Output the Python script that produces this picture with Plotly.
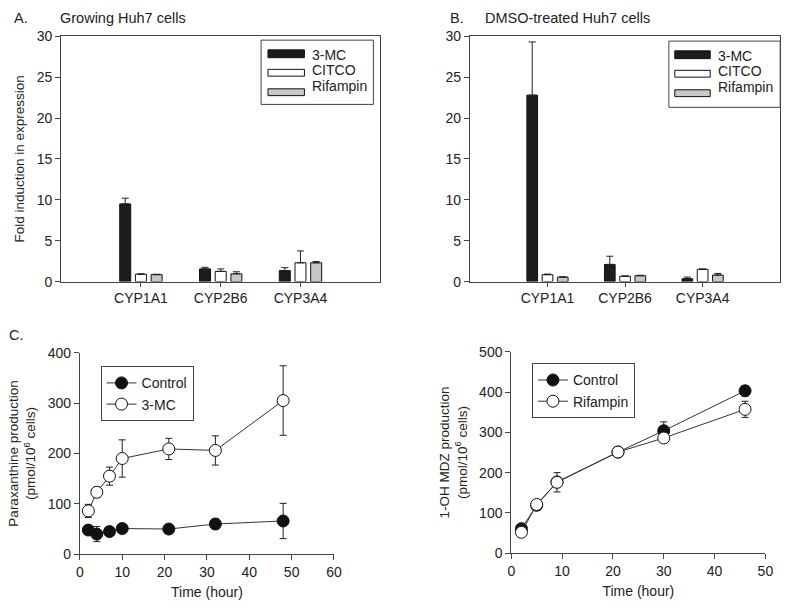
import plotly.graph_objects as go

genes = ["CYP1A1", "CYP2B6", "CYP3A4"]
a_3mc = [9.5, 1.55, 1.35]
a_3mc_err = [0.7, 0.2, 0.35]
a_citco = [0.9, 1.25, 2.3]
a_citco_err = [0.05, 0.3, 1.45]
a_rif = [0.85, 0.95, 2.3]
a_rif_err = [0.05, 0.25, 0.15]

b_3mc = [22.8, 2.1, 0.35]
b_3mc_err = [6.5, 1.0, 0.2]
b_citco = [0.85, 0.65, 1.5]
b_citco_err = [0.07, 0.05, 0.05]
b_rif = [0.55, 0.72, 0.8]
b_rif_err = [0.03, 0.05, 0.2]

time_c = [2, 4, 7, 10, 21, 32, 48]
ctrl_c = [48, 40, 45, 51, 50, 60, 66]
ctrl_c_err = [6, 15, 5, 5, 4, 10, 35]
mc_c = [86, 123, 155, 190, 209, 206, 305]
mc_c_err = [13, 10, 18, 37, 21, 29, 69]

time_d = [2, 5, 9, 21, 30, 46]
ctrl_d = [61, 119, 177, 251, 304, 403]
ctrl_d_err = [5, 5, 10, 12, 22, 13]
rif_d = [52, 121, 176, 251, 286, 357]
rif_d_err = [5, 5, 24, 8, 8, 20]

W, H = 800, 608
FONT = "Liberation Sans, Arial, sans-serif"
TXT = "#222222"
AX = "#444444"

def px(x):
    return x / W

def py(y):
    return 1 - y / H

bar_styles = [
    ("3-MC", "#1c1c1c"),
    ("CITCO", "#ffffff"),
    ("Rifampin", "#c8c8c8"),
]

fig = go.Figure()

def add_bars(vals, errs, xa, ya):
    for (name, color), v, e in zip(bar_styles, vals, errs):
        fig.add_trace(go.Bar(
            x=genes, y=v, name=name, xaxis=xa, yaxis=ya, showlegend=False,
            marker=dict(color=color, line=dict(color="#111111", width=1)),
            error_y=dict(type="data", array=e, arrayminus=[0] * len(e),
                         color="#222222", thickness=1, width=3.5),
        ))

add_bars([a_3mc, a_citco, a_rif], [a_3mc_err, a_citco_err, a_rif_err], "x", "y")
add_bars([b_3mc, b_citco, b_rif], [b_3mc_err, b_citco_err, b_rif_err], "x2", "y2")

def add_lines(t, y1, e1, n1, y2, e2, n2, xa, ya, leg):
    for yy, ee, nn, fill in [(y1, e1, n1, "#111111"), (y2, e2, n2, "#ffffff")]:
        fig.add_trace(go.Scatter(
            x=t, y=yy, name=nn, mode="lines+markers", xaxis=xa, yaxis=ya,
            legend=leg,
            line=dict(color="#333333", width=1),
            marker=dict(size=12, color=fill, line=dict(color="#111111", width=1)),
            error_y=dict(type="data", array=ee, color="#222222", thickness=1, width=3.5),
        ))

add_lines(time_c, ctrl_c, ctrl_c_err, "Control", mc_c, mc_c_err, "3-MC", "x3", "y3", "legend")
add_lines(time_d, ctrl_d, ctrl_d_err, "Control", rif_d, rif_d_err, "Rifampin", "x4", "y4", "legend2")

tickfont = dict(family=FONT, size=14, color=TXT)
titlefont = dict(family=FONT, size=13.5, color=TXT)
axis_common = dict(showline=True, linecolor=AX, linewidth=1, ticks="outside",
                   tickcolor=AX, tickwidth=1, showgrid=False,
                   zeroline=False, tickfont=tickfont)

layout = dict(
    width=W, height=H, margin=dict(l=0, r=0, t=0, b=0),
    paper_bgcolor="white", plot_bgcolor="white",
    font=dict(family=FONT, size=13, color=TXT),
    barmode="group", bargap=0.41, bargroupgap=0.3,
    xaxis=dict(domain=[px(58), px(382)], anchor="y", range=[-1, 3], mirror=True,
               ticklen=4, **axis_common),
    yaxis=dict(domain=[py(281), py(29)], anchor="x", range=[0, 30], dtick=5, mirror=True,
               ticklen=5,
               title=dict(text="Fold induction in expression", font=titlefont, standoff=9),
               **axis_common),
    xaxis2=dict(domain=[px(473), px(788)], anchor="y2", range=[-1, 3], mirror=True,
                ticklen=4, **axis_common),
    yaxis2=dict(domain=[py(281), py(29)], anchor="x2", range=[0, 30], dtick=5, mirror=True,
                ticklen=5, **axis_common),
    xaxis3=dict(domain=[px(77), px(335)], anchor="y3", range=[0, 60], dtick=10, ticklen=5,
                title=dict(text="Time (hour)", font=dict(family=FONT, size=14, color=TXT), standoff=8),
                **axis_common),
    yaxis3=dict(domain=[py(561), py(354)], anchor="x3", range=[0, 400], dtick=100, ticklen=5,
                title=dict(text="Paraxanthine production<br>(pmol/10<sup>6</sup> cells)",
                           font=titlefont, standoff=8),
                **axis_common),
    xaxis4=dict(domain=[px(515), px(773)], anchor="y4", range=[0, 50], dtick=10, ticklen=5,
                title=dict(text="Time (hour)", font=dict(family=FONT, size=14, color=TXT), standoff=8),
                **axis_common),
    yaxis4=dict(domain=[py(560), py(353)], anchor="x4", range=[0, 500], dtick=100, ticklen=5,
                title=dict(text="1-OH MDZ production<br>(pmol/10<sup>6</sup> cells)",
                           font=titlefont, standoff=8),
                **axis_common),
    legend=dict(x=px(98), y=py(368), xanchor="left", yanchor="top",
                bordercolor=AX, borderwidth=1, bgcolor="white",
                font=dict(family=FONT, size=14, color=TXT), tracegroupgap=0),
    legend2=dict(x=px(536), y=py(365), xanchor="left", yanchor="top",
                 bordercolor=AX, borderwidth=1, bgcolor="white",
                 font=dict(family=FONT, size=14, color=TXT), tracegroupgap=0),
)
fig.update_layout(**layout)

# Panel labels / titles
ann = [
    ("A.", 8, 10), ("Growing Huh7 cells", 55, 10),
    ("B.", 451, 10), ("DMSO-treated Huh7 cells", 486, 10),
    ("C.", 3, 336),
]
for text, x, y in ann:
    fig.add_annotation(text=text, x=px(x), y=py(y), xref="paper", yref="paper",
                       xanchor="left", yanchor="middle", showarrow=False,
                       font=dict(family=FONT, size=14.5, color=TXT))

# Custom legends for the bar panels (wide rectangular swatches)
def bar_legend(box, sw_x, txt_x, rows):
    x0, x1, y0, y1 = box
    fig.add_shape(type="rect", xref="paper", yref="paper",
                  x0=px(x0), x1=px(x1), y0=py(y1), y1=py(y0),
                  line=dict(color=AX, width=1), fillcolor="rgba(0,0,0,0)")
    for (name, color), (sy0, sy1, ty) in zip(bar_styles, rows):
        fig.add_shape(type="rect", xref="paper", yref="paper",
                      x0=px(sw_x[0]), x1=px(sw_x[1]), y0=py(sy1), y1=py(sy0),
                      line=dict(color="#111111", width=1), fillcolor=color)
        fig.add_annotation(text=name, x=px(txt_x), y=py(ty), xref="paper", yref="paper",
                           xanchor="left", yanchor="middle", showarrow=False,
                           font=dict(family=FONT, size=14, color=TXT))

bar_legend((261, 375, 33, 99), (268, 305), 311,
           [(43, 51, 48), (63, 70, 64), (83, 90, 80)])
bar_legend((675, 788, 34, 102), (681, 717), 723,
           [(44, 52, 49), (64, 71, 65), (84, 91, 81)])

fig.write_html(
    "out.html",
    config={"displayModeBar": False},
    post_script="document.body.style.margin='0';document.body.style.padding='0';"
                "document.body.style.overflow='hidden';",
)
